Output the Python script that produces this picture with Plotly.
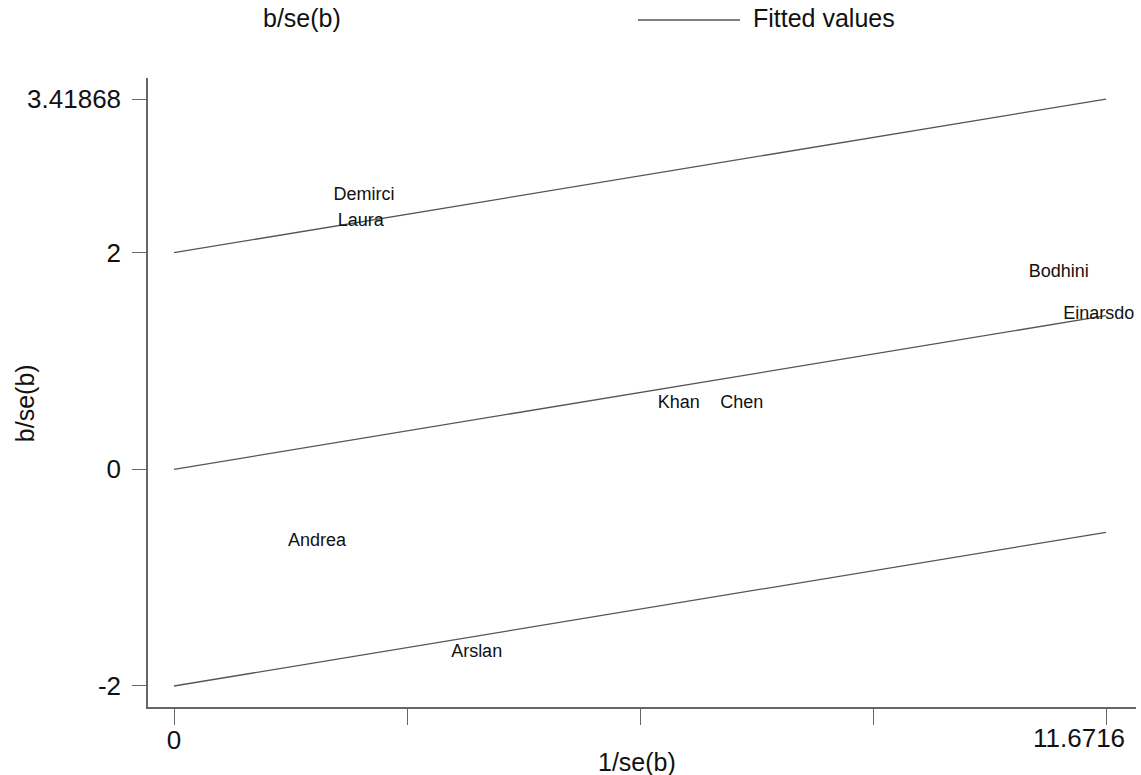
import plotly.graph_objects as go

# ---- data ----
study_names = ["Demirci", "Laura", "Bodhini", "Einarsdo", "Khan", "Chen", "Andrea", "Arslan"]
precision = [2.38, 2.34, 11.08, 11.58, 6.32, 7.11, 1.79, 3.79]      # 1/se(b)
z_scores = [2.53, 2.29, 1.82, 1.43, 0.61, 0.61, -0.67, -1.69]       # b/se(b)

fit_x = [0, 11.6716]
fit_mid = [0, 1.41868]
fit_upper = [2, 3.41868]
fit_lower = [-2, -0.58132]

x_tickvals = [0, 2.9179, 5.8358, 8.7537, 11.6716]
x_ticktext = ["0", "", "", "", ""]
x_max_label = "11.6716"
y_tickvals = [-2, 0, 2, 3.41868]
y_ticktext = ["-2", "0", "2", "3.41868"]

FONT = "Liberation Sans, Arial, sans-serif"
LINE_COL = "#555555"
TXT = "#111111"

fig = go.Figure()
for ys in (fit_upper, fit_mid, fit_lower):
    fig.add_trace(go.Scatter(x=fit_x, y=ys, mode="lines",
                             line=dict(color=LINE_COL, width=1.3),
                             showlegend=False, hoverinfo="skip"))

fig.add_trace(go.Scatter(x=precision, y=z_scores, mode="text", text=study_names,
                         textposition="middle center", cliponaxis=False,
                         textfont=dict(family=FONT, size=18, color=TXT),
                         showlegend=False))

W, H = 1141, 775
L, R, T, B = 148, 5, 78, 68

fig.update_layout(
    width=W, height=H,
    margin=dict(l=L, r=R, t=T, b=B, pad=0, autoexpand=False),
    paper_bgcolor="white", plot_bgcolor="white",
    font=dict(family=FONT, color=TXT),
    showlegend=False,
    xaxis=dict(range=[-0.3256, 12.047], tickvals=x_tickvals, ticktext=x_ticktext,
               ticks="outside", ticklen=16, tickwidth=1.3, tickcolor="#666666",
               showline=True, linecolor="#666666", linewidth=1.5,
               showgrid=False, zeroline=False, automargin=False,
               ticklabelstandoff=-7,
               tickfont=dict(family=FONT, size=26, color=TXT)),
    yaxis=dict(range=[-2.194, 3.613], tickvals=y_tickvals, ticktext=y_ticktext,
               ticks="outside", ticklen=14, tickwidth=1.3, tickcolor="#666666",
               showline=True, linecolor="#666666", linewidth=1.5,
               showgrid=False, zeroline=False, automargin=False,
               ticklabelstandoff=6,
               tickfont=dict(family=FONT, size=26, color=TXT)),
)

# max x tick label (shifted left to fit, as in the original)
fig.add_annotation(text=x_max_label, xref="x", yref="paper",
                   x=x_tickvals[-1], y=0, xanchor="center", yanchor="middle",
                   xshift=-27, yshift=-31, showarrow=False,
                   font=dict(family=FONT, size=26, color=TXT))

# axis titles
fig.add_annotation(text="1/se(b)", xref="paper", yref="paper",
                   x=(637 - L) / 988, y=0, xanchor="center", yanchor="middle",
                   yshift=-55, showarrow=False,
                   font=dict(family=FONT, size=25, color=TXT))
fig.add_annotation(text="b/se(b)", textangle=-90, xref="paper", yref="paper",
                   x=0, y=0.483, xanchor="center", yanchor="middle",
                   xshift=-(L - 25), showarrow=False,
                   font=dict(family=FONT, size=25, color=TXT))

# legend (manual, Stata style)
leg_y = (707 - 18) / 629
fig.add_annotation(text="b/se(b)", xref="paper", yref="paper",
                   x=(302 - L) / 988, y=leg_y, xanchor="center", yanchor="middle",
                   showarrow=False, font=dict(family=FONT, size=25, color=TXT))
fig.add_shape(type="line", xref="paper", yref="paper",
              x0=(638 - L) / 988, x1=(740 - L) / 988, y0=leg_y - 0.003, y1=leg_y - 0.003,
              line=dict(color=LINE_COL, width=1.5))
fig.add_annotation(text="Fitted values", xref="paper", yref="paper",
                   x=(751 - L) / 988, y=leg_y, xanchor="left", yanchor="middle",
                   showarrow=False, font=dict(family=FONT, size=25, color=TXT))

fig.write_html("out.html", config={"displayModeBar": False},
               post_script="document.body.style.margin='0';document.body.style.padding='0';")
